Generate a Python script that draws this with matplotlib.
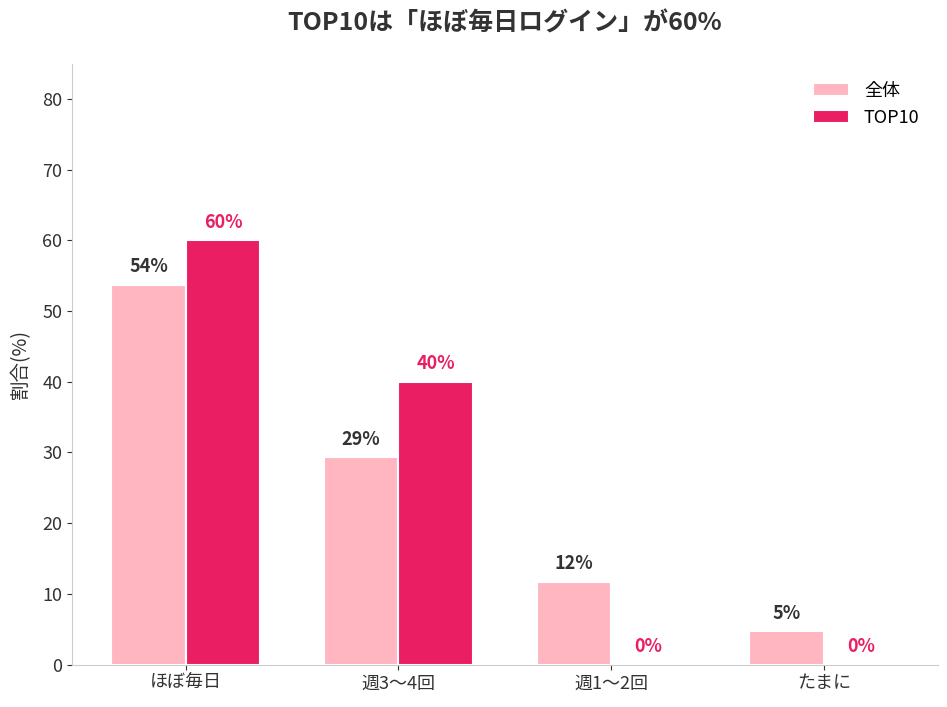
import matplotlib
matplotlib.use("Agg")
import matplotlib.pyplot as plt
import numpy as np

plt.rcParams['font.family'] = ['Noto Sans CJK JP', 'DejaVu Sans']

categories = ["ほぼ毎日", "週3〜4回", "週1〜2回", "たまに"]
all_users = [53.7, 29.3, 11.7, 4.7]
top10 = [60, 40, 0, 0]
all_labels = ["54%", "29%", "12%", "5%"]
top10_labels = ["60%", "40%", "0%", "0%"]

light = "#FFB6C1"
dark = "#E91E63"
text_color = "#333333"

fig, ax = plt.subplots(figsize=(9.47, 7.07), dpi=100)
x = np.arange(len(categories))
w = 0.35

b1 = ax.bar(x - w / 2, all_users, w, color=light, edgecolor="white", linewidth=1.5, label="全体")
b2 = ax.bar(x + w / 2, top10, w, color=dark, edgecolor="white", linewidth=1.5, label="TOP10")

for rect, lab in zip(b1, all_labels):
    ax.text(rect.get_x() + rect.get_width() / 2, rect.get_height() + 1.2, lab,
            ha="center", va="bottom", fontsize=13, fontweight="bold", color=text_color)
for rect, lab in zip(b2, top10_labels):
    ax.text(rect.get_x() + rect.get_width() / 2, rect.get_height() + 1.2, lab,
            ha="center", va="bottom", fontsize=13, fontweight="bold", color=dark)

ax.set_ylim(0, 85)
ax.set_xticks(x)
ax.set_xticklabels(categories, fontsize=13, color=text_color)
ax.tick_params(axis="y", labelsize=13, labelcolor=text_color)
ax.tick_params(colors="#333333")
ax.set_ylabel("割合(%)", fontsize=14, color=text_color, labelpad=8)
ax.set_title("TOP10は「ほぼ毎日ログイン」が60%", fontsize=18, fontweight="bold",
             color=text_color, pad=24)

for s in ["top", "right"]:
    ax.spines[s].set_visible(False)
for s in ["left", "bottom"]:
    ax.spines[s].set_color("#CCCCCC")

ax.legend(frameon=False, fontsize=13, loc="upper right", borderaxespad=0.6)

fig.subplots_adjust(left=0.076, right=0.99, top=0.91, bottom=0.06)
fig.savefig("out.png", dpi=100)
